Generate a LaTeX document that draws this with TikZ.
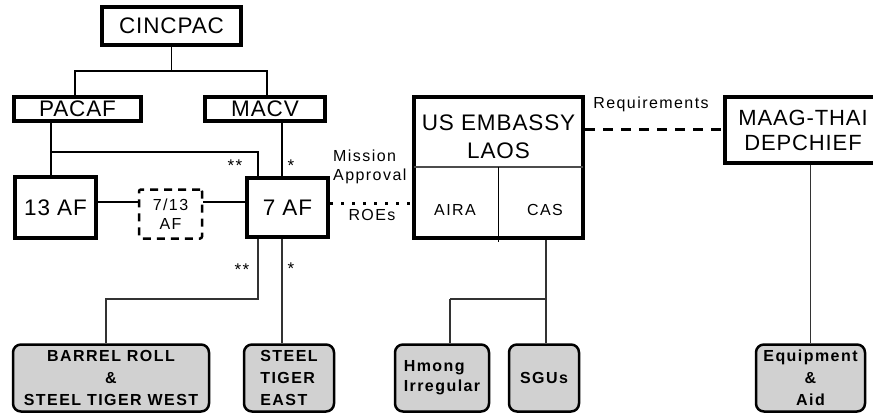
\documentclass[tikz,border=0pt]{standalone}
\usepackage{fontspec}
\setmainfont{Liberation Sans}[LetterSpace=9.0]
\newfontfamily\bigsans{Liberation Sans}[LetterSpace=4.0]
\definecolor{boxgray}{gray}{0.82}
\begin{document}
\begin{tikzpicture}[x=1pt,y=-1pt,
  big/.style={draw, line width=4pt, inner sep=0pt, align=center, font=\bigsans\fontsize{22.5}{28}\selectfont},
  conn/.style={line width=1.8pt},
  thinconn/.style={line width=1.3pt, black!80},
  area/.style={draw, line width=2.5pt, rounded corners=8pt, fill=boxgray, inner sep=0pt, minimum height=67pt, font=\bfseries\fontsize{16}{22}\selectfont},
  lbl/.style={inner sep=0pt, font=\fontsize{16}{18}\selectfont},
  starlbl/.style={inner sep=0pt, font=\fontsize{17}{18}\selectfont}]
\useasboundingbox (0,0) rectangle (873,415);

% top boxes
\node[big, minimum width=139pt, minimum height=38pt] (cinc) at (171.5,26) {CINCPAC};
\node[big, minimum width=127pt, minimum height=24pt] (pacaf) at (77.5,108.5) {PACAF};
\node[big, minimum width=120pt, minimum height=24pt] (macv) at (265,108.5) {MACV};
\node[big, minimum width=81pt, minimum height=61pt] (af13) at (55.5,207.5) {13 AF};
\node[big, minimum width=81pt, minimum height=59pt] (af7) at (287.5,207.5) {7 AF};
\node[draw, line width=2.5pt, dash pattern=on 8pt off 6pt, rounded corners=2pt, minimum width=63pt, minimum height=49pt, inner sep=0pt, align=center, font=\fontsize{16}{19}\selectfont] (af713) at (170.5,214) {7/13\\AF};

% embassy
\node[big, minimum width=169pt, minimum height=141pt] (emb) at (498.5,167.5) {};
\node[inner sep=0pt, align=center, font=\bigsans\fontsize{22.5}{28}\selectfont] (embt) at (498.5,137) {US EMBASSY\\LAOS};
\draw[line width=1.5pt, black!70] (414,167) -- (583,167);
\draw[line width=1pt] (498,167) -- (498,242);
\node[lbl] (aira) at (455,210) {AIRA};
\node[lbl] (cas) at (545,210) {CAS};

% MAAG
\node[big, minimum width=156pt, minimum height=66pt, font=\bigsans\fontsize{22}{25}\selectfont] (maag) at (803,130) {MAAG-THAI\\DEPCHIEF};

% bottom boxes
\node[area, minimum width=196pt, align=center] (br) at (111,378) {BARREL ROLL\\\&\\STEEL TIGER WEST};
\node[area, minimum width=90pt, align=left] (ste) at (289,378) {STEEL\\TIGER\\EAST};
\node[area, minimum width=94pt, align=left, font=\bfseries\fontsize{16}{20}\selectfont] (hm) at (442,378) {Hmong\\Irregular};
\node[area, minimum width=70pt] (sgu) at (544,378) {SGUs};
\node[area, minimum width=109pt, align=center] (eq) at (810.5,378) {Equipment\\\&\\Aid};

% connectors top
\coordinate (j1) at (75,71);
\coordinate (j2) at (267,71);
\draw[conn] (cinc.south) |- (j1) -- (j1 |- pacaf.north);
\draw[conn] (cinc.south) |- (j2) -- (j2 |- macv.north);
\coordinate (p1) at (51,152);
\coordinate (p2) at (258,152);
\draw[conn] (pacaf.south -| p1) -- (af13.north -| p1);
\draw[conn] (p1) -- (p2) -- (af7.north -| p2);
\coordinate (m1) at (282,0);
\draw[conn] (macv.south -| m1) -- (af7.north -| m1);
\coordinate (h) at (0,202);
\draw[conn] (af13.east |- h) -- (af713.west |- h);
\draw[conn] (af713.east |- h) -- (af7.west |- h);

% connectors bottom
\coordinate (b1) at (258,299);
\coordinate (b2) at (106,299);
\draw[thinconn] (af7.south -| b1) -- (b1) -- (b2) -- (br.north -| b2);
\coordinate (s1) at (282,0);
\draw[thinconn] (af7.south -| s1) -- (ste.north -| s1);
\coordinate (c1) at (546,299);
\coordinate (c2) at (450,299);
\draw[thinconn] (emb.south -| c1) -- (sgu.north -| c1);
\draw[thinconn] (c2) -- (c1);
\draw[thinconn] (c2) -- (hm.north -| c2);
\draw[thinconn] (maag.south -| eq.north) -- (eq.north);

% dotted and dashed relations
\coordinate (d) at (0,203);
\draw[line width=3pt, dash pattern=on 3pt off 8pt] (af7.east |- d) -- (emb.west |- d);
\coordinate (r) at (0,129);
\draw[line width=3pt, dash pattern=on 10pt off 8pt] (emb.east |- r) -- (maag.west |- r);

% labels
\node[lbl, anchor=west] (mis) at (333,156) {Mission};
\node[lbl, anchor=west] (appr) at (333,176) {Approval};
\node[lbl] (roes) at (372,215) {ROEs};
\node[lbl] (req) at (651,104) {Requirements};

\node[starlbl] (s1a) at (235,166) {**};
\node[starlbl] (s1b) at (291,166) {*};
\node[starlbl] (s2a) at (242,270) {**};
\node[starlbl] (s2b) at (291,269) {*};
\end{tikzpicture}
\end{document}
